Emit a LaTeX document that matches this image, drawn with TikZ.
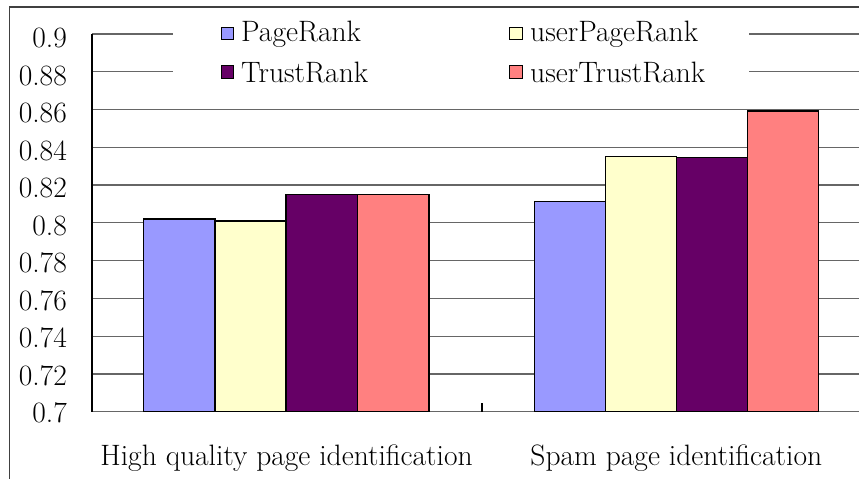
\documentclass[tikz,border=0pt]{standalone}
\usepackage{fontspec}
\definecolor{cPR}{HTML}{9999FF}
\definecolor{cUPR}{HTML}{FFFFCC}
\definecolor{cTR}{HTML}{660066}
\definecolor{cUTR}{HTML}{FF8080}
\begin{document}
\begin{tikzpicture}[x=1pt,y=-1pt,
  lbl/.style={font=\rmfamily\fontsize{29.5}{34}\selectfont, inner sep=0pt},
  grid/.style={draw=black!60, line width=1.2pt},
  bar/.style={draw=black, line width=1.4pt},
  key/.style={draw=black, line width=1.2pt, minimum size=12.5pt, inner sep=0pt}]
\useasboundingbox (0,0) rectangle (859,479);
\fill[white] (0,0) rectangle (859,479);
% outer frame (top and left)
\draw[black!75, line width=1.6pt] (9.5,479) -- (9.5,7) -- (859,7);
% gridlines
\foreach \i in {0,...,9} {
  \draw[grid] (92,{34+\i*37.77}) -- (872,{34+\i*37.77});
}
% bottom axis and left axis
\draw[black!60, line width=1.2pt] (92,411.7) -- (872,411.7);
\draw[black, line width=1.2pt] (92,34) -- (92,411.7);
\draw[black, line width=1.2pt] (482,411.7) -- (482,403);
% y labels
\foreach \v [count=\i from 0] in {0.9,0.88,0.86,0.84,0.82,0.8,0.78,0.76,0.74,0.72,0.7} {
  \node[lbl, anchor=east] (y\i) at (67,{38+\i*37.5}) {\v};
}
% bars group 1
\draw[bar, fill=cPR]  (143.5,411.7) rectangle (215,219);
\draw[bar, fill=cUPR] (215,411.7) rectangle (286,221);
\draw[bar, fill=cTR]  (286,411.7) rectangle (357.5,194.7);
\draw[bar, fill=cUTR] (357.5,411.7) rectangle (429,194.7);
% bars group 2
\draw[bar, fill=cPR]  (534.3,411.7) rectangle (605.7,201.7);
\draw[bar, fill=cUPR] (605.7,411.7) rectangle (676.7,156.3);
\draw[bar, fill=cTR]  (676.7,411.7) rectangle (747.3,157.7);
\draw[bar, fill=cUTR] (747.3,411.7) rectangle (818.3,111);
% legend
\fill[white] (173,18) rectangle (749,90);
\node[key, fill=cPR]  (k1) at (227.5,33.5) {};
\node[key, fill=cTR]  (k2) at (227.5,72) {};
\node[key, fill=cUPR] (k3) at (516,33.5) {};
\node[key, fill=cUTR] (k4) at (516,72) {};
\node[lbl, anchor=west] (t1) at (241,34) {PageRank};
\node[lbl, anchor=west] (t2) at (241,72.5) {TrustRank};
\node[lbl, anchor=west] (t3) at (530,34) {userPageRank};
\node[lbl, anchor=west] (t4) at (530,72.5) {userTrustRank};
% category labels
\node[lbl, anchor=base] (c1) at (286.5,465) {High quality page identification};
\node[lbl, anchor=base] (c2) at (676.3,465) {Spam page identification};
\end{tikzpicture}
\end{document}
